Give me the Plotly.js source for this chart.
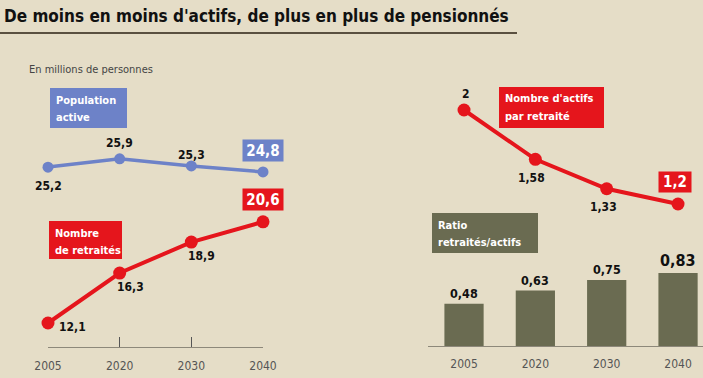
<!DOCTYPE html>
<html><head><meta charset="utf-8">
<script src="https://cdn.plot.ly/plotly-3.0.1.min.js"></script>
<style>html,body{margin:0;padding:0;background:#e5ddc7;}#chart{width:703px;height:378px;}</style>
</head><body><div id="chart"></div>
<script>
const years = ["2005", "2020", "2030", "2040"];
const yearsLabels = ["2005", "2020", "2030", "2040"];
const populationActive = [25.2, 25.9, 25.3, 24.8];
const nombreRetraites = [12.1, 16.3, 18.9, 20.6];
const actifsParRetraite = [2, 1.58, 1.33, 1.2];
const ratioRetraitesActifs = [0.48, 0.63, 0.75, 0.83];

const fmt = v => String(v).replace('.', ',');
const W = 703, H = 378;
const px = x => x / W;
const py = y => 1 - y / H;
const idx = years.map((_, i) => i);

const FONT = "'Liberation Sans Narrow', 'DejaVu Sans Condensed', 'Arial Narrow', sans-serif";
const BLUE = '#6d82c8', RED = '#e5151c', OLIVE = '#6a6b51';

const traces = [
  {x: idx, y: populationActive, xaxis: 'x', yaxis: 'y', type: 'scatter', mode: 'lines+markers',
   line: {color: BLUE, width: 3.5}, marker: {color: BLUE, size: 11}, cliponaxis: false, hoverinfo: 'none'},
  {x: idx, y: nombreRetraites, xaxis: 'x', yaxis: 'y', type: 'scatter', mode: 'lines+markers',
   line: {color: RED, width: 4}, marker: {color: RED, size: 13}, cliponaxis: false, hoverinfo: 'none'},
  {x: idx, y: ratioRetraitesActifs, xaxis: 'x2', yaxis: 'y2', type: 'bar', width: 0.55,
   marker: {color: OLIVE}, hoverinfo: 'none'},
  {x: idx, y: actifsParRetraite, xaxis: 'x2', yaxis: 'y3', type: 'scatter', mode: 'lines+markers',
   line: {color: RED, width: 4}, marker: {color: RED, size: 13}, cliponaxis: false, hoverinfo: 'none'}
];

const ann = [];
const shapes = [];
function valLabel(xr, yr, xv, yv, text, xs, ys, size) {
  ann.push({xref: xr, yref: yr, x: xv, y: yv, text: text, showarrow: false, xshift: xs, yshift: ys,
    font: {family: FONT, size: size || 12, color: '#111', weight: 'bold'}});
}
function boxLabel(xr, yr, xv, yv, text, xs, ys, bg, w, h, size) {
  ann.push({xref: xr, yref: yr, x: xv, y: yv, text: text, showarrow: false, xshift: xs, yshift: ys,
    bgcolor: bg, borderpad: 0, width: w, height: h,
    font: {family: FONT, size: size || 15, color: '#ffffff', weight: 'bold'}});
}
function titleBox(x0, y0, x1, y1, lines, bg) {
  shapes.push({type: 'rect', xref: 'paper', yref: 'paper', x0: px(x0), x1: px(x1), y0: py(y0), y1: py(y1),
    fillcolor: bg, line: {width: 0}, layer: 'below'});
  lines.forEach((t, k) => {
    ann.push({xref: 'paper', yref: 'paper', x: px(x0 + 5), y: py(y0 + 12 + 17 * k), xanchor: 'left', yanchor: 'middle',
      text: t, showarrow: false, align: 'left', borderpad: 0,
      font: {family: FONT, size: 11, color: '#ffffff', weight: 'bold'}});
  });
}

// Population active labels
const popShift = [[0, -19], [0, 16], [0, 11]];
popShift.forEach((s, i) => valLabel('x', 'y', i, populationActive[i], fmt(populationActive[i]), s[0], s[1]));
boxLabel('x', 'y', 3, populationActive[3], fmt(populationActive[3]), 0, 21, BLUE, 40, 21);
// Retraités labels
const retShift = [[24, -4], [11, -14], [10, -14]];
retShift.forEach((s, i) => valLabel('x', 'y', i, nombreRetraites[i], fmt(nombreRetraites[i]), s[0], s[1]));
boxLabel('x', 'y', 3, nombreRetraites[3], fmt(nombreRetraites[3]), 0, 22, RED, 40, 21);
// Actifs par retraité labels
const apShift = [[2, 16], [-4, -19], [-3, -18]];
apShift.forEach((s, i) => valLabel('x2', 'y3', i, actifsParRetraite[i], fmt(actifsParRetraite[i]), s[0], s[1]));
boxLabel('x2', 'y3', 3, actifsParRetraite[3], fmt(actifsParRetraite[3]), -3, 22, RED, 32, 20);
// Bar labels
ratioRetraitesActifs.forEach((v, i) => {
  ann.push({xref: 'x2', yref: 'y2', x: i, y: v, text: fmt(v), showarrow: false, yanchor: 'bottom', yshift: 1,
    font: {family: FONT, size: i === 3 ? 16 : 12.5, color: '#111', weight: 'bold'}});
});

titleBox(50, 88, 127, 128, ['Population', 'active'], BLUE);
titleBox(49, 221, 122, 259, ['Nombre', 'de retraités'], RED);
titleBox(499, 87, 604, 128, ["Nombre d'actifs", 'par retraité'], RED);
titleBox(432, 213, 538, 253, ['Ratio', 'retraités/actifs'], OLIVE);

ann.push({xref: 'paper', yref: 'paper', x: px(2), y: py(16), xanchor: 'left', yanchor: 'middle', showarrow: false,
  text: "De moins en moins d'actifs, de plus en plus de pensionnés",
  font: {family: FONT, size: 17, color: '#111', weight: 'bold'}});
ann.push({xref: 'paper', yref: 'paper', x: px(27), y: py(70), xanchor: 'left', yanchor: 'middle', showarrow: false,
  text: 'En millions de personnes', font: {family: FONT, size: 11, color: '#444'}});

shapes.push({type: 'line', xref: 'paper', yref: 'paper', x0: 0, x1: px(517), y0: py(33), y1: py(33),
  line: {color: '#5a5040', width: 2}});

const layout = {
  width: W, height: H, margin: {l: 0, r: 0, t: 0, b: 0},
  paper_bgcolor: '#e5ddc7', plot_bgcolor: 'rgba(0,0,0,0)', showlegend: false,
  xaxis: {domain: [px(48), px(263)], range: [0, 3], type: 'linear', anchor: 'y',
    ticks: 'inside', ticklen: 10, tickwidth: 1.5, tickcolor: '#555', showline: true, linecolor: '#8d887a', linewidth: 1,
    showgrid: false, zeroline: false, ticklabelstandoff: 8,
    tickvals: idx, ticktext: yearsLabels, tickfont: {family: FONT, size: 12, color: '#555'}},
  yaxis: {domain: [31 / H, 0.9], range: [10.083, 36.07], visible: false},
  xaxis2: {domain: [px(428), 1], range: [-0.505, 3.35], type: 'linear', anchor: 'y2',
    ticks: '', showline: true, linecolor: '#8d887a', linewidth: 1, showgrid: false, zeroline: false,
    ticklabelstandoff: 7, tickvals: idx, ticktext: yearsLabels, tickfont: {family: FONT, size: 12, color: '#555'}},
  yaxis2: {domain: [32 / H, 0.9], range: [0, 3.502], visible: false},
  yaxis3: {overlaying: 'y2', range: [-0.0085, 2.6145], visible: false},
  shapes: shapes,
  annotations: ann
};

Plotly.newPlot('chart', traces, layout, {staticPlot: true, displayModeBar: false});
</script></body></html>
